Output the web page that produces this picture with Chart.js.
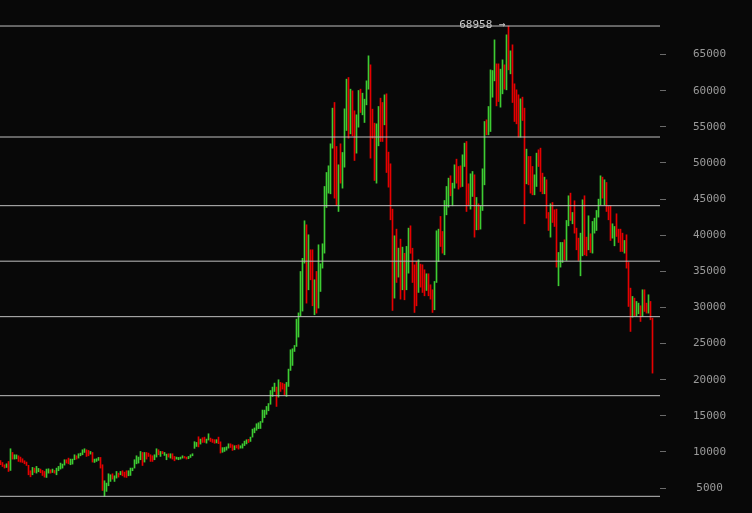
<!DOCTYPE html>
<html><head><meta charset="utf-8">
<style>html,body{margin:0;padding:0;background:#080808;overflow:hidden}canvas{display:block;background:#080808}</style>
<script src="https://cdn.jsdelivr.net/npm/chart.js@4.4.1/dist/chart.umd.min.js"></script>
</head><body>
<canvas id="c" width="752" height="513"></canvas>
<script>
// 3-day OHLC bars (USD), Oct 2019 - Jun 2022
const opens = [
8650,8330,8100,7880,8250,7450,9450,9150,9350,9450,
8850,8750,8600,8450,8130,7100,6950,7600,7250,7350,
7600,7200,7200,6600,7200,7450,7200,7400,7150,7500,
7700,7900,8200,8850,8900,8400,8500,9000,9400,9200,
9500,9700,10000,10250,9900,9750,9900,8600,8800,8900,
9150,7900,4900,4700,5400,6000,6900,6000,6500,7000,
6900,7300,7100,7200,6800,6900,7450,7800,8600,8700,
9100,9800,8700,9750,9700,9450,9100,9000,9450,10200,
9500,10000,9600,9300,9700,9300,9650,9300,9050,9000,
9100,9200,9350,9250,9100,9300,9500,10600,11000,11800,
11200,11700,11900,11400,11700,11900,11700,11600,11300,11650,
11400,10100,10300,10350,10600,10950,10900,10450,10800,10800,
10550,10650,10900,11300,11600,11500,12100,12900,13050,13300,
13500,14150,15000,15400,15900,16700,17800,18600,18900,17700,
19500,19300,19100,18000,19300,21300,22800,24000,24700,26500,
29000,30000,36500,40000,33000,37500,36500,30500,34000,31000,
33000,36000,38500,44500,46500,47000,52500,57000,51000,45000,
51000,48000,50500,56000,60000,56000,59000,56500,52500,56000,
59500,57500,57000,59000,60500,63000,57000,55000,49000,54000,
58000,57500,55500,58000,50500,49500,43000,35000,38500,35500,
37000,34000,36000,33500,37300,40300,38000,35500,33700,32200,
35500,34500,33800,32800,33900,32700,31800,30500,33500,39400,
41500,40000,38500,43500,45500,47800,44800,46800,49500,49000,
49000,47000,50000,52000,46500,44500,46000,48000,42500,44000,
41500,43800,48200,55600,54400,57400,60000,62000,63500,62000,
58500,60500,63400,61200,67500,63500,65000,59500,59000,57500,
54800,58500,57000,48000,50500,49800,48500,46500,47300,51000,
51500,48000,46200,47500,43000,41000,43800,42500,42500,35000,
36300,37000,38800,37000,41500,45500,41800,44000,40500,39500,
37000,38000,44000,39500,38500,40000,38500,40800,41200,42800,
44500,47200,45000,47000,43800,43000,40000,39200,42000,40500,
40300,39800,38000,39600,36000,31500,29000,30500,29000,29500,
30000,29000,31800,30300,29600,30300,28500];
const highs = [
8800,8540,8220,8360,8680,10440,9930,9610,9600,9470,
9290,9060,8780,8600,8150,7400,7860,7770,8000,7720,
7630,7440,7300,7630,7670,7530,7630,7440,7760,8000,
8460,8320,8920,8920,9150,9010,9010,9610,9470,9750,
9840,10300,10440,10300,10210,10070,9930,9010,9060,9240,
9240,8230,6010,5690,6980,6840,6980,6700,7300,7070,
7300,7400,7210,7400,7400,7770,7770,8920,9470,9290,
10070,9930,9930,9930,9840,9610,9470,9610,10440,10300,
10070,10070,9930,9700,9750,9750,9750,9380,9290,9240,
9290,9470,9380,9290,9380,9610,9750,11420,11320,12100,
11780,11970,12050,11780,12515,11920,11780,11700,11700,12050,
11400,10600,10620,10700,11130,11130,10995,10860,10900,10995,
10860,11130,11500,11690,11750,12056,13163,13320,13900,14040,
14220,15800,15790,16300,16700,18500,18978,19531,18978,19993,
19624,19531,19393,19624,21467,24143,24282,24743,28387,29250,
34980,36800,41997,41443,40059,37983,37983,33832,34985,38675,
36046,38813,46748,48685,49607,52652,57589,58373,52283,49746,
52652,51453,57496,61601,61832,60217,59986,57220,56666,60033,
60217,59664,58833,61370,64831,63585,57450,55513,55421,57819,
58972,58373,59434,59572,51499,49884,43611,39920,40843,38214,
39459,38352,37500,38450,40980,41300,38200,35900,36370,36600,
36000,35907,35215,34661,34661,33139,32447,33600,40612,40843,
42596,40520,44810,46748,47900,48224,47209,49745,50529,49515,
49607,51130,52745,52975,47116,48500,48823,48362,45225,44349,
44072,49193,55743,55973,57818,62889,62797,67041,63720,63720,
62986,64278,63586,67737,68958,65523,66353,60956,60126,59434,
58880,59111,57589,51915,50900,50900,49516,48363,51361,51822,
52053,48594,48040,47671,43150,44349,44534,43519,43612,37614,
38998,38998,39367,42043,45456,45825,43150,44764,40981,39597,
40289,44903,45456,39736,42689,40197,41905,42366,43427,44995,
48225,48040,47671,47302,43981,44072,41582,41213,42966,40843,
40843,40289,39275,40059,36230,32678,31524,31294,30833,30602,
30233,32448,32448,30602,31755,30833,28527];
const lows = [
8230,7990,7770,7850,7300,7440,9010,9010,9050,8690,
8600,8550,8360,8130,6840,6560,6840,7160,7070,7260,
7120,6750,6520,6470,7070,7070,7160,7070,6840,7400,
7630,7760,8180,8460,8360,8230,8320,8920,9010,9150,
9470,9610,9930,9380,9470,9700,8600,8550,8690,8830,
7770,4670,3858,4540,5320,5920,6240,5920,6380,6520,
6840,6700,6520,6470,6700,6750,7400,7770,8360,8460,
8920,8130,8600,9010,9380,8690,8690,8920,9290,9610,
9380,9750,9520,8920,9290,9150,9010,8780,9010,8920,
9010,9150,9150,9010,9060,9240,9470,10500,10760,10700,
11090,11320,11320,11220,11650,11450,11320,11200,11250,11150,
9850,9950,10070,10250,10530,10620,10210,10300,10550,10390,
10530,10530,10880,11110,11300,11456,12056,12650,13000,13230,
13250,14100,14750,15200,15700,16600,17686,18378,16300,17593,
18378,18700,17917,17686,19070,21283,21975,23912,24605,25900,
28800,29500,36138,30602,32447,33832,30233,28988,29218,29910,
32216,35446,37522,43842,45826,45734,52053,45134,44119,43288,
47209,46517,49423,54497,53437,54036,53760,50346,51361,54959,
56989,56666,55605,58050,60218,50668,53437,47578,47209,52376,
52975,52975,55282,48685,46655,42135,29587,31294,33462,34200,
31155,32447,31063,32450,34750,37500,33460,29310,30230,32080,
32816,32078,31616,32354,31616,31155,29310,29680,33462,36368,
38445,37522,37291,42826,43888,45456,44072,46516,47209,46378,
46655,46747,49515,43288,44072,43611,45364,39735,40750,40750,
40843,43426,46978,53897,53897,54355,59107,61367,57907,58508,
57727,59572,60218,60126,62894,62340,58373,55743,55420,53575,
53575,55882,41582,47117,46979,45825,45594,45594,46748,49516,
46056,45733,45733,42366,40658,39736,41766,41213,35584,33001,
35584,36230,36600,36507,41305,42043,41582,40289,37983,36507,
34384,37153,37291,37153,37983,37614,37522,40289,40658,42504,
44211,45133,44211,43289,42135,39275,39597,38537,39828,38998,
37752,37752,37522,35446,30141,26681,28664,28757,28757,29126,
28065,28757,29449,29218,29218,28296,20915];
const closes = [
8330,8100,7880,8250,7450,9450,9150,9350,9450,8850,
8750,8600,8450,8200,7100,6950,7600,7250,7650,7600,
7200,6900,6600,7400,7500,7200,7500,7150,7600,7900,
8350,8200,8800,8600,8500,8900,8900,9450,9100,9650,
9800,10200,10300,9600,9600,10000,8700,8900,9000,9150,
7900,4900,5600,5450,6800,6700,6400,6600,7200,6700,
7200,6800,6700,6700,7300,7500,7700,8800,9200,9100,
9800,8700,9700,9200,9450,8800,8800,9500,9650,9700,
9900,9800,9850,9600,9400,9650,9150,9000,9250,9200,
9250,9400,9200,9100,9300,9550,9700,11150,11200,11200,
11700,11500,11400,11750,12000,11600,11400,11300,11600,11400,
10200,10400,10450,10650,10950,10700,10400,10750,10650,10500,
10750,10900,11350,11500,11350,11900,12900,13100,13700,13800,
14000,15600,15500,16100,16500,18300,18700,19300,17000,19600,
18700,18900,18300,19300,21300,23500,23800,24600,28000,29000,
33000,36500,40000,33000,38500,35500,32000,33000,31000,37500,
35500,38500,46000,48000,49000,52000,57000,48000,46000,49000,
48500,50500,57000,60500,56000,59000,57000,52000,55500,59000,
58000,59000,58500,60500,63500,56000,54000,49500,54500,57000,
55000,54000,58000,50000,48000,43000,38000,38500,35500,37000,
34000,36000,33500,37300,40300,38000,35500,33700,32200,35500,
33500,33000,32800,33900,32700,31800,30800,32300,39500,40000,
39000,38500,44500,46300,47000,46000,47000,49300,48000,47000,
47000,50500,52000,46500,44800,48000,48200,43000,44800,41500,
43800,48200,55300,54400,57400,61500,62300,66000,60800,61000,
61800,63400,61200,67000,64800,65000,59000,57000,56500,54500,
57500,56500,49500,50600,47600,48000,46700,48000,50800,50000,
47600,46600,47700,43000,41500,43100,42200,41700,36500,37200,
38500,38700,37000,41500,44800,42500,42800,40500,38500,37200,
39200,43800,38500,38000,41900,38800,41000,41800,42800,44500,
47300,46000,46800,43500,42500,39800,41200,40500,40300,39300,
38500,38200,39000,35900,31000,29000,30500,29300,30300,30200,
28800,31700,30000,29600,31000,28500,22500];
const yTicks = [5000,10000,15000,20000,25000,30000,35000,40000,45000,50000,55000,60000,65000];
const fibRatios = [0, 0.236, 0.382, 0.5, 0.618, 0.786, 1];

const GREEN = '#3dcc33', RED = '#e60000';
const SLOTS = 330;
const hi = Math.max(...highs), lo = Math.min(...lows);
const hiIdx = highs.indexOf(hi);

const barData = opens.map((o, i) => ({x: i, y: [lows[i], highs[i]]}));
const barColors = opens.map((o, i) => closes[i] >= o ? GREEN : RED);

const fibSets = fibRatios.map(r => {
  const v = hi - r * (hi - lo);
  return {type: 'line', data: [{x: -0.25, y: v}, {x: SLOTS - 0.25, y: v}],
    borderColor: '#bfbfbf', borderWidth: 1, pointRadius: 0, fill: false, order: 0};
});

const peakLabel = {
  id: 'peakLabel',
  afterDatasetsDraw(chart) {
    const {ctx, scales: {x, y}} = chart;
    ctx.save();
    ctx.font = '11px "DejaVu Sans Mono", monospace';
    ctx.fillStyle = '#c8c8c8';
    ctx.textAlign = 'right';
    ctx.textBaseline = 'middle';
    ctx.fillText(hi + ' \u2192', x.getPixelForValue(hiIdx) - 3, y.getPixelForValue(hi) - 1);
    ctx.restore();
  }
};

new Chart(document.getElementById('c'), {
  type: 'bar',
  data: {
    datasets: [
      {type: 'bar', data: barData, backgroundColor: barColors, barThickness: 1, borderWidth: 0, order: 1},
      ...fibSets
    ]
  },
  options: {
    responsive: false, animation: false, devicePixelRatio: 1,
    layout: {padding: 0, autoPadding: false},
    plugins: {legend: {display: false}, tooltip: {enabled: false}},
    scales: {
      x: {type: 'linear', display: false, min: -0.25, max: SLOTS - 0.25, offset: false},
      y: {
        position: 'right', min: 1550, max: 72560,
        afterBuildTicks(s) { s.ticks = yTicks.map(v => ({value: v})); },
        afterFit(s) { s.width = 92; s.paddingTop = 0; s.paddingBottom = 0; },
        grid: {drawOnChartArea: false, drawTicks: true, tickLength: 6, color: '#6a6a6a', lineWidth: 1},
        border: {display: false},
        ticks: {color: '#9a9a9a', font: {family: '"DejaVu Sans Mono", monospace', size: 11},
          padding: 27, crossAlign: 'center', callback: v => String(v)}
      }
    }
  },
  plugins: [peakLabel]
});
</script>
</body></html>
